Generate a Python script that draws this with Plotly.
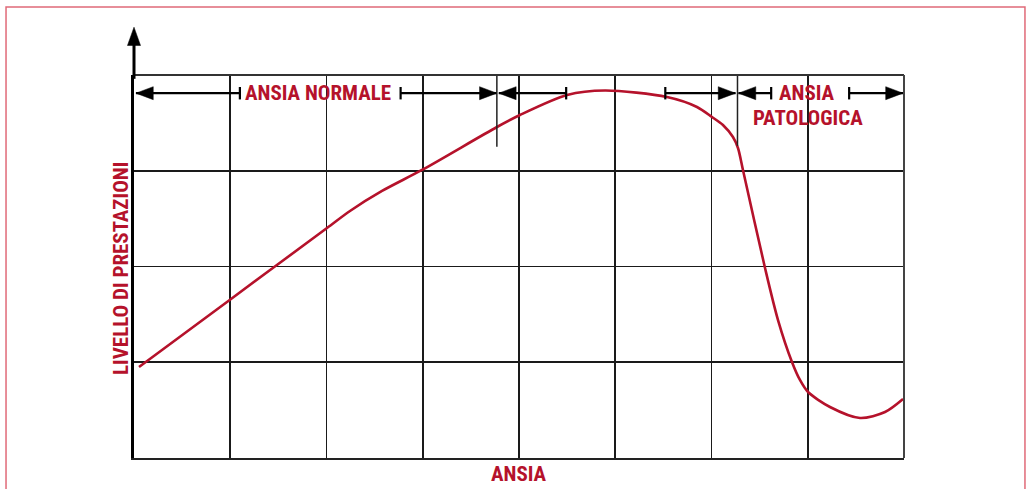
import plotly.graph_objects as go

# ---- data ----
ansia = [0.052, 1.008, 2.005, 2.244, 2.577, 2.992, 3.771, 4.010, 4.499, 4.894, 5.538, 5.849, 6.005,
         6.119, 6.223, 6.275, 6.327, 6.556, 6.691, 6.836, 6.919, 7.003, 7.231, 7.543,
         7.803, 7.990]
prestazioni = [0.950, 1.661, 2.402, 2.580, 2.789, 3.008, 3.457, 3.582, 3.791, 3.838, 3.770, 3.666, 3.561,
               3.478, 3.352, 3.238, 3.008, 1.984, 1.441, 1.003, 0.815, 0.689, 0.533, 0.418,
               0.480, 0.616]

# interval markers along the top row
seg_start = [0.02, 2.77, 3.79, 5.52, 6.28, 7.43]
seg_end = [1.10, 3.77, 4.49, 6.25, 6.62, 7.99]
start_kind = ["arrow", "bar", "arrow", "bar", "arrow", "bar"]
end_kind = ["bar", "arrow", "bar", "arrow", "bar", "arrow"]
row_level = 3.81

# phase dividers
divider_x = [3.77, 6.27]
divider_bottom = [3.25, 3.26]

labels = ["ANSIA NORMALE", "ANSIA", "PATOLOGICA"]
label_x = [1.91, 6.99, 7.0]
label_y = [3.81, 3.81, 3.55]

RED = "#b5122b"
FONT = "Liberation Sans Narrow, Arial Narrow, Roboto Condensed, sans-serif"
FS = 21

fig = go.Figure()
fig.add_trace(go.Scatter(x=ansia, y=prestazioni, mode="lines",
                         line=dict(color=RED, width=2.6, shape="spline", smoothing=0.8),
                         hoverinfo="skip", showlegend=False))

shapes = []
AL = 0.18   # arrowhead length (x units)
AH = 0.068  # arrowhead half height (y units)
BH = 0.065  # bar half height
for x0, x1, k0, k1 in zip(seg_start, seg_end, start_kind, end_kind):
    shapes.append(dict(type="line", xref="x", yref="y", x0=x0, x1=x1, y0=row_level, y1=row_level,
                       line=dict(color="black", width=2.2)))
    for xe, kind, direction in ((x0, k0, -1), (x1, k1, 1)):
        if kind == "bar":
            shapes.append(dict(type="line", xref="x", yref="y", x0=xe, x1=xe,
                               y0=row_level - BH, y1=row_level + BH,
                               line=dict(color="black", width=2.2)))
        else:
            base = xe - direction * AL
            shapes.append(dict(type="path", xref="x", yref="y",
                               path=f"M {xe} {row_level} L {base} {row_level + AH} L {base} {row_level - AH} Z",
                               fillcolor="black", line=dict(color="black", width=0.5)))

for dx, db in zip(divider_x, divider_bottom):
    shapes.append(dict(type="line", xref="x", yref="y", x0=dx, x1=dx, y0=4, y1=db,
                       line=dict(color="#222", width=1.5)))

# frame top/right
shapes.append(dict(type="line", xref="paper", yref="paper", x0=0, x1=1, y0=1, y1=1,
                   line=dict(color="#333", width=1.8)))
shapes.append(dict(type="line", xref="paper", yref="paper", x0=1, x1=1, y0=0, y1=1,
                   line=dict(color="#444", width=2)))
# y-axis extension with arrow
shapes.append(dict(type="line", xref="paper", yref="paper", x0=0, x1=0, y0=0.99, y1=1.085,
                   line=dict(color="black", width=3)))
shapes.append(dict(type="path", xref="paper", yref="paper",
                   path="M 0 1.125 L -0.0085 1.077 L 0.0085 1.077 Z",
                   fillcolor="black", line=dict(color="black", width=0.5)))
# outer border
shapes.append(dict(type="rect", xref="paper", yref="paper", x0=-0.1662, x1=1.1571, y0=-0.2, y1=1.1775,
                   line=dict(color="#e06a78", width=1.5), fillcolor="rgba(0,0,0,0)", layer="below"))

annotations = []
for t, x, y in zip(labels, label_x, label_y):
    annotations.append(dict(text=t, x=x, y=y, xref="x", yref="y", showarrow=False,
                            xanchor="center", yanchor="middle",
                            font=dict(family=FONT, size=FS, color=RED, weight="bold")))
annotations.append(dict(text="ANSIA", x=0.5, y=-0.042, xref="paper", yref="paper", showarrow=False,
                        xanchor="center", yanchor="middle",
                        font=dict(family=FONT, size=FS, color=RED, weight="bold")))
annotations.append(dict(text="LIVELLO DI PRESTAZIONI", x=-0.0169, y=0.496, xref="paper", yref="paper",
                        showarrow=False, textangle=-90, xanchor="center", yanchor="middle",
                        font=dict(family=FONT, size=FS, color=RED, weight="bold")))

fig.update_layout(
    width=1028, height=489,
    margin=dict(l=134, r=124, t=75, b=31),
    paper_bgcolor="white", plot_bgcolor="white",
    shapes=shapes, annotations=annotations,
    showlegend=False,
)
fig.update_xaxes(range=[0, 8], dtick=1, tick0=0, showgrid=True, gridcolor="#1a1a1a", gridwidth=1.8,
                 showticklabels=False, ticks="", zeroline=False,
                 showline=True, linecolor="#222", linewidth=2)
fig.update_yaxes(range=[0, 4], dtick=1, tick0=0, showgrid=True, gridcolor="#1a1a1a", gridwidth=1.8,
                 showticklabels=False, ticks="", zeroline=False,
                 showline=True, linecolor="black", linewidth=3)

fig.write_html("out.html", config={"displayModeBar": False, "staticPlot": True},
               post_script="document.body.style.margin='0';document.body.style.overflow='hidden';")
